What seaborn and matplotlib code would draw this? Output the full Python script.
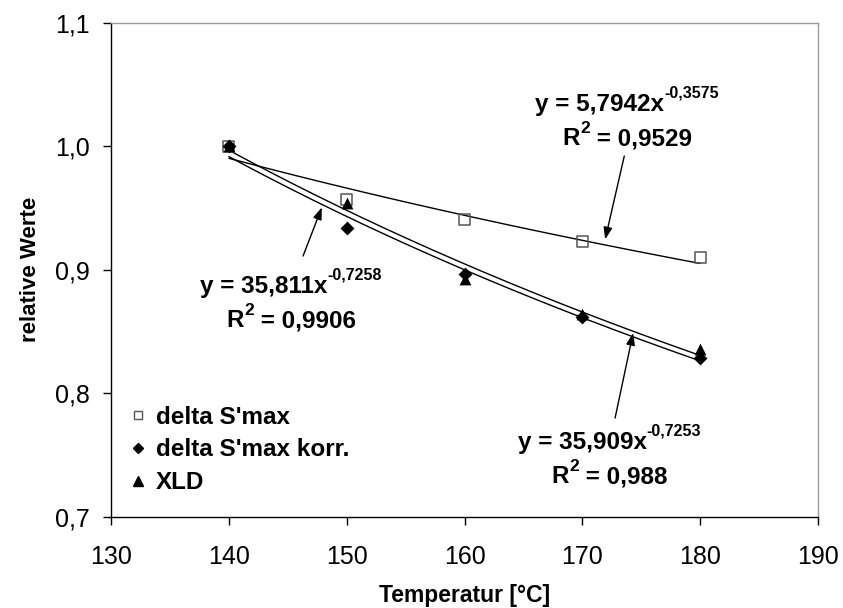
import numpy as np
import pandas as pd
import matplotlib
matplotlib.use("Agg")
import matplotlib.pyplot as plt
from matplotlib.lines import Line2D
from matplotlib.ticker import FuncFormatter, FixedLocator
from matplotlib.transforms import offset_copy
import seaborn as sns

# Measured values, normalised to 140 °C
temperatur = [140, 150, 160, 170, 180]
delta_smax = [1.000, 0.957, 0.941, 0.923, 0.910]
delta_smax_korr = [1.000, 0.934, 0.897, 0.862, 0.829]
xld = [1.000, 0.954, 0.893, 0.864, 0.836]

series_names = ["delta S'max", "delta S'max korr.", "XLD"]

# Power-law trend lines y = a * x^b and their R²
trend_a = [5.7942, 35.811, 35.909]
trend_b = [-0.3575, -0.7258, -0.7253]
trend_r2 = [0.9529, 0.9906, 0.988]

x_ticks = [130, 140, 150, 160, 170, 180, 190]
y_ticks = [0.7, 0.8, 0.9, 1.0, 1.1]

sns.set_style("ticks")
plt.rcParams["font.family"] = ["Liberation Sans", "DejaVu Sans"]
plt.rcParams["axes.linewidth"] = 1.0
for key in ("text.color", "axes.labelcolor", "xtick.color", "ytick.color"):
    plt.rcParams[key] = "black"

fig, ax = plt.subplots(figsize=(8.43, 6.08), dpi=100)
fig.subplots_adjust(left=111 / 843, right=818 / 843,
                    top=1 - 22.7 / 608, bottom=1 - 517 / 608)

df = pd.DataFrame({
    "Temperatur": temperatur * 3,
    "Wert": delta_smax + delta_smax_korr + xld,
    "Serie": np.repeat(series_names, len(temperatur)),
})

# trend curves
for a, b in zip(trend_a, trend_b):
    xs = np.linspace(temperatur[0], temperatur[-1], 200)
    sns.lineplot(x=xs, y=a * xs ** b, ax=ax, color="black", linewidth=1.0,
                 legend=False, zorder=2)

# measured points
sub = df[df["Serie"] == series_names[0]]
sns.scatterplot(data=sub, x="Temperatur", y="Wert", marker="s", s=62,
                facecolor="none", edgecolor="#555555", linewidth=1.1,
                ax=ax, zorder=3, legend=False)
sub = df[df["Serie"] == series_names[1]]
sns.scatterplot(data=sub, x="Temperatur", y="Wert", marker="D", s=50,
                color="black", edgecolor="black", linewidth=0,
                ax=ax, zorder=3, legend=False)
sub = df[df["Serie"] == series_names[2]]
sns.scatterplot(data=sub, x="Temperatur", y="Wert", marker="^", s=72,
                color="black", edgecolor="black", linewidth=0,
                ax=ax, zorder=3, legend=False)

ax.set_xlim(x_ticks[0], x_ticks[-1])
ax.set_ylim(y_ticks[0], y_ticks[-1])
ax.xaxis.set_major_locator(FixedLocator(x_ticks))
ax.yaxis.set_major_locator(FixedLocator(y_ticks))
ax.xaxis.set_major_formatter(FuncFormatter(lambda v, p: f"{v:.0f}"))
ax.yaxis.set_major_formatter(FuncFormatter(lambda v, p: f"{v:.1f}".replace(".", ",")))
ax.tick_params(axis="both", direction="out", length=6, width=1.0,
               labelsize=18, colors="black")
ax.tick_params(axis="x", pad=14)
ax.tick_params(axis="y", pad=9)

for side in ("top", "right"):
    ax.spines[side].set_visible(True)
    ax.spines[side].set_color("#9a9a9a")
for side in ("left", "bottom"):
    ax.spines[side].set_color("black")

ax.set_xlabel("Temperatur [°C]", fontsize=16.5, fontweight="bold", labelpad=11)
ax.set_ylabel("relative Werte", fontsize=16, fontweight="bold", labelpad=10)

# legend
handles = [
    Line2D([], [], linestyle="none", marker="s", markersize=6,
           markerfacecolor="white", markeredgecolor="#555555", markeredgewidth=1.0),
    Line2D([], [], linestyle="none", marker="D", markersize=5,
           markerfacecolor="black", markeredgecolor="black"),
    Line2D([], [], linestyle="none", marker="^", markersize=7,
           markerfacecolor="black", markeredgecolor="black"),
]
ax.legend(handles, series_names, loc="upper left", bbox_to_anchor=(0.012, 0.245),
          frameon=False, handlelength=0.7, handletextpad=0.4, labelspacing=0.4,
          borderaxespad=0, prop={"weight": "bold", "size": 17.5})


def fmt(v):
    return f"{v:g}".replace(".", ",")


def rich_line(ax, xc, y, parts):
    """Draw text pieces (text, size, raise_px) side by side, centred on xc."""
    texts = [ax.text(xc, y, t, fontsize=s, fontweight="bold", ha="left",
                     va="baseline", zorder=5) for t, s, _ in parts]
    renderer = ax.figure.canvas.get_renderer()
    widths = [t.get_window_extent(renderer).width for t in texts]
    x0 = -sum(widths) / 2
    for t, w, (_, _, dy) in zip(texts, widths, parts):
        t.set_transform(offset_copy(ax.transData, fig=ax.figure, x=x0, y=dy, units="dots"))
        x0 += w


# equation label positions (centre x, baseline of first and second line)
label_pos = [(173.8, 1.0285, 1.001), (145.3, 0.881, 0.8535), (172.3, 0.755, 0.7273)]
# arrows: (tail, head)
arrows = [((173.56, 0.9921), (171.94, 0.9247)),
          ((146.30, 0.9112), (147.89, 0.9505)),
          ((172.78, 0.7801), (174.31, 0.8489))]

for a, b, r2, (xc, y1, y2), (tail, head) in zip(trend_a, trend_b, trend_r2,
                                                 label_pos, arrows):
    rich_line(ax, xc, y1, [(f"y = {fmt(a)}x", 17.5, 0), (fmt(b), 11.5, 14)])
    rich_line(ax, xc, y2, [("R", 17.5, 0), ("2", 12.5, 12), (f" = {fmt(r2)}", 17.5, 0)])
    ax.annotate("", xy=head, xytext=tail,
                arrowprops=dict(arrowstyle="-|>,head_length=0.6,head_width=0.22",
                                color="black", lw=1.0, mutation_scale=12,
                                shrinkA=0, shrinkB=0))

fig.savefig("out.png", dpi=100)
